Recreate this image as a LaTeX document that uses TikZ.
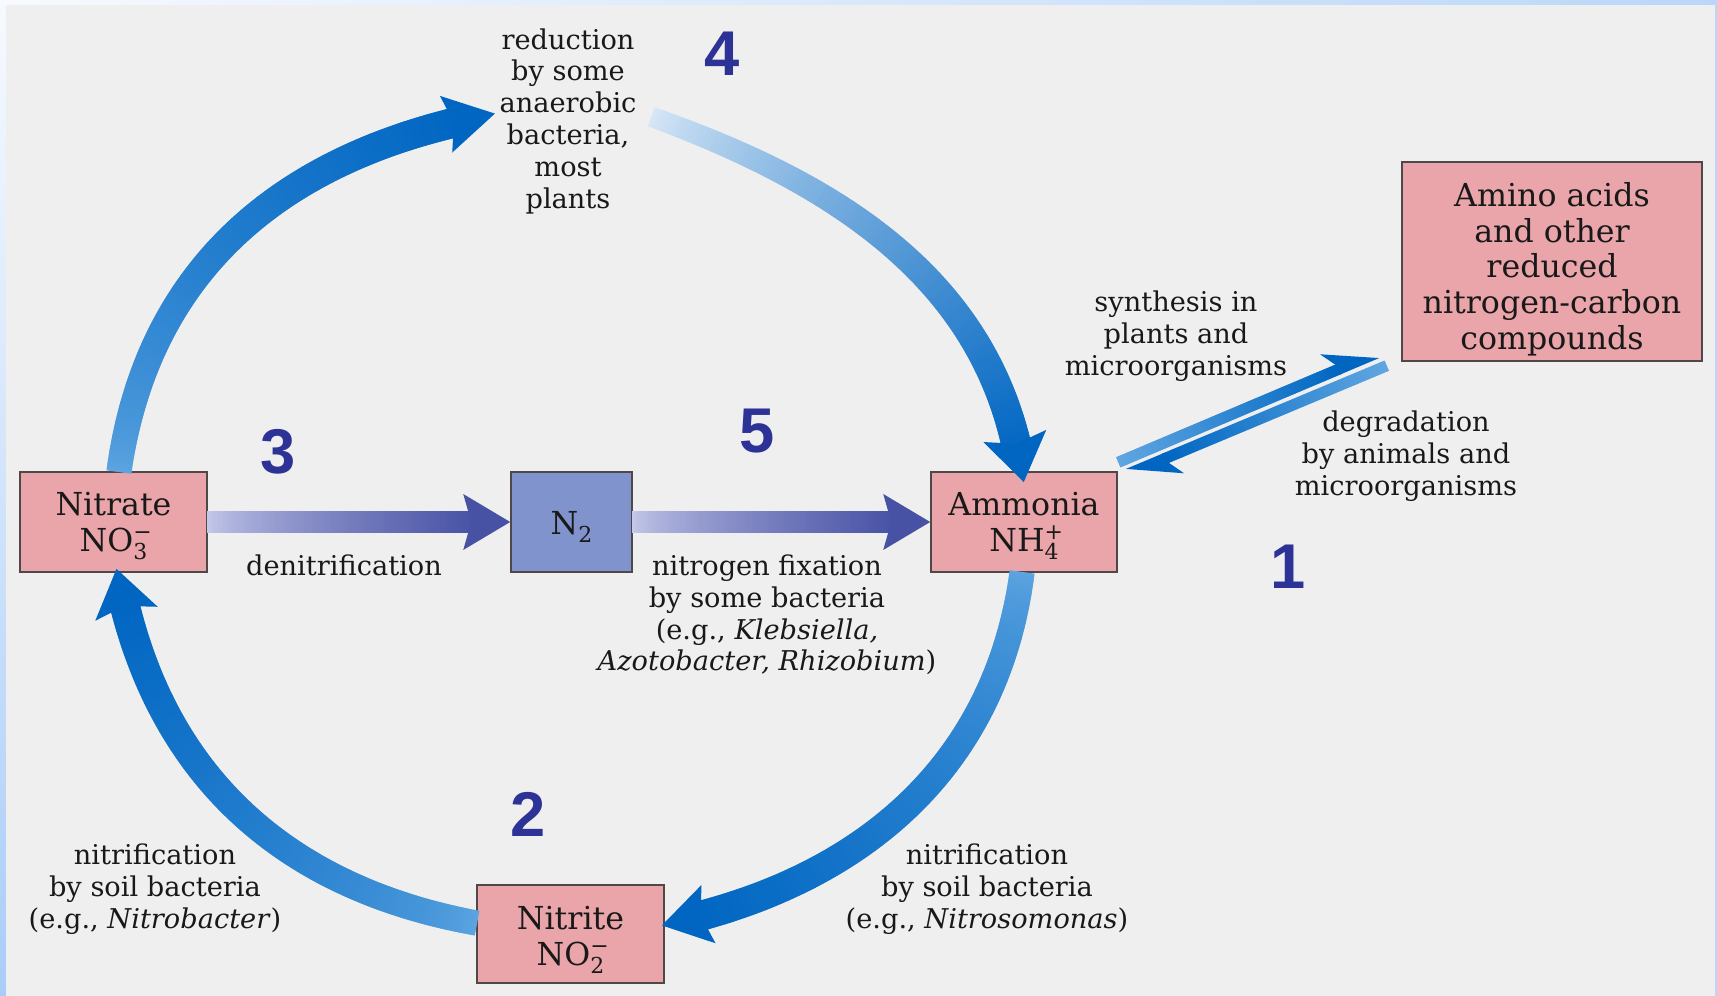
\documentclass[tikz,border=0pt]{standalone}
\usepackage{fontspec}
\usetikzlibrary{decorations.markings,calc,shadings}
\newfontfamily\numfont{Liberation Sans}
\newfontfamily\labfont{DejaVu Serif}
\definecolor{bggray}{RGB}{239,239,239}
\definecolor{frameA}{RGB}{247,250,254}
\definecolor{frameB}{RGB}{186,215,249}
\definecolor{frameC}{RGB}{170,205,248}
\definecolor{boxpink}{RGB}{233,165,170}
\definecolor{boxblue}{RGB}{129,147,205}
\definecolor{boxline}{RGB}{80,72,72}
\definecolor{numblue}{RGB}{45,50,150}
\definecolor{txt}{RGB}{25,25,25}
\definecolor{bluedark}{RGB}{0,102,194}
\definecolor{bluemid}{RGB}{95,166,225}
\definecolor{bluepale}{RGB}{215,231,246}
\definecolor{purpdark}{RGB}{72,82,165}
\definecolor{purppale}{RGB}{198,202,234}
\def\PXU{0.5690551}
\def\HOFF{14}
\newcommand\chem[3]{#1\makebox[0pt][l]{\raisebox{0.75ex}{\fontsize{12.5}{12.5}\selectfont#3}}\raisebox{-0.5ex}{\fontsize{12.5}{12.5}\selectfont#2}}
\newcommand\gradmark{%
  \pgfmathsetmacro\gd{\pgfkeysvalueof{/pgf/decoration/mark info/distance from start}}%
  \pgfmathsetmacro\gL{\pgfdecoratedpathlength-(\gHL-\gNotch-3)*\PXU}%
  \ifdim\gd pt<\gL pt\relax
    \pgfmathsetmacro\gfr{max(\gd/\gL,0.001)^\gExp}%
    \pgfmathtruncatemacro\gpct{100*\gfr}%
    \pgfmathsetmacro\ghw{(\gwA+(\gwB-\gwA)*\gd/\gL)/2*\PXU}%
    \fill[color=\gB!\gpct!\gA] (-0.5pt,-\ghw pt) rectangle (0.5pt,\ghw pt);%
  \fi}
\newcommand\gradhead{%
  \pgfmathsetmacro\ghT{\HOFF}%
  \pgfmathsetmacro\ghL{\HOFF-\gHL*\PXU}\pgfmathsetmacro\ghW{\gHW*\PXU}%
  \pgfmathsetmacro\ghN{\HOFF-(\gHL-\gNotch)*\PXU}%
  \fill[color=\gB] (\ghT pt,0pt) -- (\ghL pt,\ghW pt) -- (\ghN pt,0pt) -- (\ghL pt,-\ghW pt) -- cycle;}
\newcommand\harphead{%
  \pgfmathsetmacro\ghT{\HOFF}%
  \pgfmathsetmacro\ghL{\HOFF-\gHL*\PXU}\pgfmathsetmacro\ghW{\gHW*\PXU}%
  \pgfmathsetmacro\ghN{\HOFF-(\gHL-\gNotch)*\PXU}\pgfmathsetmacro\ghS{\gwB/2*\PXU}%
  \fill[color=\gB] (\ghT pt,-\ghS pt) -- (\ghL pt,\ghW pt) -- (\ghN pt,\ghS pt) -- (\ghN pt,-\ghS pt) -- cycle;}
\tikzset{
  ga/.store in=\gA, gb/.store in=\gB, gwa/.store in=\gwA, gwb/.store in=\gwB,
  ghl/.store in=\gHL, ghw/.store in=\gHW, gnotch/.store in=\gNotch, gexp/.store in=\gExp,
  gradarrow/.style={gexp=1, gnotch=8,
     postaction={decorate,decoration={markings,
       mark=between positions 0 and 1 step 0.6pt with {\gradmark}}},
     postaction={decorate,decoration={markings,
       mark=at position -14pt with {\gradhead}}}},
  gradharp/.style={gexp=1, gnotch=10,
     postaction={decorate,decoration={markings,
       mark=between positions 0 and 1 step 0.6pt with {\gradmark}}},
     postaction={decorate,decoration={markings,
       mark=at position -14pt with {\harphead}}}},
  pbox/.style={draw=boxline, line width=0.9pt, fill=boxpink, text=txt, align=center,
     inner sep=0pt, font=\labfont\fontsize{18}{20.4}\selectfont},
  lbl/.style={font=\labfont\fontsize{15.5}{18.1}\selectfont, align=center, text=txt, inner sep=0pt},
  num/.style={font=\numfont\bfseries\fontsize{36}{36}\selectfont, text=numblue, inner sep=0pt}
}
\begin{document}
\begin{tikzpicture}[x=0.02cm, y=-0.02cm]
\useasboundingbox (0,0) rectangle (1717,996);
\shade[upper left=frameA, upper right=frameB, lower left=frameC, lower right=frameB] (0,0) rectangle (1717,996);
\fill[bggray] (6,5) rectangle (1715,996);

% boxes
\node[pbox, minimum width=3.74cm, minimum height=2cm] (nitrate) at (113.5,522) {\rule{0pt}{18pt}Nitrate\\\chem{NO}{3}{−}};
\node[pbox, fill=boxblue, minimum width=2.42cm, minimum height=2cm] (ntwo) at (571.5,522) {\rule{0pt}{18.5pt}\chem{N}{2}{}};
\node[pbox, minimum width=3.72cm, minimum height=2cm] (ammonia) at (1024,522) {\rule{0pt}{18pt}Ammonia\\\chem{NH}{4}{+}};
\node[pbox, minimum width=3.74cm, minimum height=1.96cm] (nitrite) at (570.5,934) {\rule{0pt}{20pt}Nitrite\\\chem{NO}{2}{−}};
\node[pbox, minimum width=6cm, minimum height=3.98cm] (amino) at (1552,261.5) {\rule{0pt}{22.5pt}Amino acids\\and other\\reduced\\nitrogen-carbon\\compounds};

% free ends
\coordinate (redtip) at (495,114);
\coordinate (btail) at (652,117);
\coordinate (synA) at (1119,462);
\coordinate (synB) at (1377,353);
\coordinate (degA) at (1386,366);
\coordinate (degB) at (1128,474);

% cycle arrows
\path[gradarrow, ga=bluemid, gb=bluedark, gexp=0.6, gwa=25, gwb=30, ghl=50, ghw=29]
  ($(nitrate.north)+(5.5,0)$) .. controls (148,264) and (288,152) .. (redtip);
\path[gradarrow, ga=bluepale, gb=bluedark, gexp=0.8, gwa=20, gwb=30, ghl=47, ghw=32]
  (btail) .. controls (840,185) and (997,284) .. ($(ammonia.north)+(-1,11)$);
\path[gradarrow, ga=bluemid, gb=bluedark, gexp=0.6, gwa=25, gwb=30, ghl=48, ghw=30]
  ($(ammonia.south)+(-2,0)$) .. controls (996,770) and (857,885) .. ($(nitrite.east)+(-3,-9)$);
\path[gradarrow, ga=bluemid, gb=bluedark, gexp=0.6, gwa=25, gwb=30, ghl=46, ghw=32]
  ($(nitrite.west)+(0,-11)$) .. controls (285,888) and (154,775) .. ($(nitrate.south)+(3.5,-4)$);

% straight arrows
\path[gradarrow, ga=purppale, gb=purpdark, gexp=0.7, gwa=23, gwb=23, ghl=47, ghw=28]
  (nitrate.east) -- (ntwo.west);
\path[gradarrow, ga=purppale, gb=purpdark, gexp=0.7, gwa=23, gwb=23, ghl=47, ghw=28]
  (ntwo.east) -- (ammonia.west);

% equilibrium harpoons
\path[gradharp, ga=bluemid, gb=bluedark, gwa=11, gwb=11, ghl=53, ghw=21] (synA) -- (synB);
\path[gradharp, ga=bluemid, gb=bluedark, gwa=11, gwb=11, ghl=52, ghw=21] (degA) -- (degB);

% labels
\node[lbl] (tred) at (568,121) {reduction\\by some\\anaerobic\\bacteria,\\most\\plants};
\node[lbl] (tsyn) at (1176,336) {synthesis in\\plants and\\microorganisms};
\node[lbl] (tdeg) at (1406,456) {degradation\\by animals and\\microorganisms};
\node[lbl] (tden) at (344,565) {denitrification};
\node[lbl] (tfix) at (767,615) {nitrogen fixation\\by some bacteria\\(e.g., \textit{Klebsiella,}\\\textit{Azotobacter, Rhizobium})};
\node[lbl] (tnl) at (155,889) {nitrification\\by soil bacteria\\(e.g., \textit{Nitrobacter})};
\node[lbl] (tnr) at (987,889) {nitrification\\by soil bacteria\\(e.g., \textit{Nitrosomonas})};

% numbers
\node[num] (num4) at (722,54) {4};
\node[num] (num3) at (278,452) {3};
\node[num] (num5) at (757,431) {5};
\node[num] (num2) at (528,814) {2};
\node[num] (num1) at (1288,567) {1};
\end{tikzpicture}
\end{document}
